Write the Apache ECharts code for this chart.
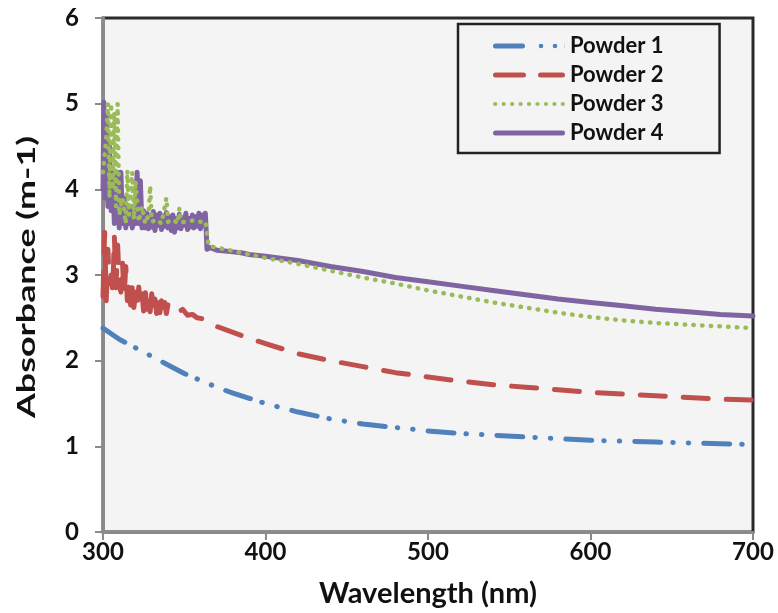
<!DOCTYPE html>
<html>
<head>
<meta charset="utf-8">
<script src="https://cdn.jsdelivr.net/npm/echarts@6/dist/echarts.min.js"></script>
<style>html,body{margin:0;padding:0;background:#fff}#c{width:778px;height:613px}</style>
</head>
<body>
<div id="c"></div>
<script>
// ---- Data ----
const seriesNames = ['Powder 1', 'Powder 2', 'Powder 3', 'Powder 4'];
const xTicks = [300, 400, 500, 600, 700];
const yTicks = [0, 1, 2, 3, 4, 5, 6];
const xTitle = 'Wavelength (nm)';
const yTitle = 'Absorbance (m-1)';

const p1Wl  = [300, 310, 320, 330, 340, 350, 360, 370, 380, 390, 400, 420, 440, 460, 480, 500, 520, 540, 560, 580, 600, 620, 640, 660, 680, 700];
const p1Abs = [2.38, 2.25, 2.15, 2.05, 1.95, 1.85, 1.77, 1.69, 1.62, 1.56, 1.50, 1.40, 1.32, 1.26, 1.22, 1.18, 1.15, 1.13, 1.11, 1.09, 1.07, 1.06, 1.05, 1.04, 1.03, 1.02];

const p2Wl  = [300, 301, 302, 303, 304, 305, 306, 307, 308, 309, 310, 311, 312, 313, 314, 315, 316, 317, 318, 319, 320, 321, 322, 323, 324, 325, 326, 327, 328, 329, 330, 331, 332, 333, 334, 335, 336, 337, 338, 339, 340, 343, 346, 349, 352, 355, 358, 361, 364, 370, 380, 390, 400, 420, 440, 460, 480, 500, 520, 540, 560, 580, 600, 620, 640, 660, 680, 700];
const p2Abs = [2.75, 3.50, 2.70, 3.30, 2.90, 3.00, 2.80, 3.45, 2.85, 3.35, 2.90, 2.80, 3.15, 2.75, 3.10, 2.70, 2.90, 2.65, 2.85, 2.62, 2.80, 2.60, 2.86, 2.63, 2.78, 2.58, 2.82, 2.60, 2.75, 2.57, 2.78, 2.58, 2.72, 2.55, 2.74, 2.56, 2.70, 2.54, 2.68, 2.55, 2.66, 2.60, 2.56, 2.60, 2.53, 2.54, 2.50, 2.49, 2.45, 2.40, 2.33, 2.26, 2.20, 2.08, 2.00, 1.93, 1.86, 1.81, 1.76, 1.72, 1.69, 1.66, 1.63, 1.61, 1.59, 1.57, 1.55, 1.54];

const p3Wl  = [300, 302, 303, 304, 305, 306, 307, 308, 309, 310, 312, 314, 315, 316, 318, 319, 320, 322, 324, 326, 328, 329, 330, 333, 336, 339, 340, 343, 346, 347, 348, 352, 356, 360, 363, 365, 370, 380, 390, 400, 420, 440, 460, 480, 500, 520, 540, 560, 580, 600, 620, 640, 660, 680, 700];
const p3Abs = [4.20, 4.60, 5.00, 3.90, 5.00, 4.00, 4.90, 3.80, 5.00, 3.70, 3.90, 3.60, 4.22, 3.70, 4.20, 3.65, 4.10, 3.62, 3.80, 3.60, 3.70, 4.04, 3.62, 3.65, 3.60, 3.90, 3.62, 3.65, 3.60, 3.78, 3.62, 3.62, 3.64, 3.62, 3.63, 3.34, 3.32, 3.28, 3.24, 3.20, 3.13, 3.05, 2.97, 2.90, 2.82, 2.75, 2.68, 2.62, 2.56, 2.51, 2.47, 2.44, 2.42, 2.40, 2.38];

const p4Wl  = [300, 300.5, 301, 302, 303, 304, 305, 306, 307, 308, 309, 310, 311, 312, 313, 314, 315, 316, 317, 318, 319, 320, 321, 322, 323, 324, 325, 326, 327, 328, 329, 330, 331, 332, 333, 334, 335, 336, 337, 338, 339, 340, 341, 342, 343, 344, 345, 346, 347, 348, 349, 350, 351, 352, 353, 354, 355, 356, 357, 358, 359, 360, 361, 362, 363, 364, 366, 370, 375, 380, 385, 390, 400, 420, 440, 460, 480, 500, 520, 540, 560, 580, 600, 620, 640, 660, 680, 700];
const p4Abs = [4.00, 5.02, 3.90, 4.90, 3.80, 4.50, 3.75, 4.20, 3.60, 3.90, 4.20, 3.55, 4.20, 3.60, 3.90, 3.55, 3.75, 3.60, 3.80, 3.55, 3.70, 3.60, 4.20, 3.60, 4.10, 3.55, 3.75, 3.55, 3.72, 3.54, 3.70, 3.56, 3.74, 3.52, 3.70, 3.58, 3.72, 3.53, 3.69, 3.57, 3.73, 3.55, 3.68, 3.52, 3.70, 3.50, 3.66, 3.55, 3.71, 3.54, 3.67, 3.58, 3.72, 3.53, 3.66, 3.56, 3.70, 3.55, 3.68, 3.57, 3.72, 3.54, 3.70, 3.58, 3.72, 3.30, 3.32, 3.29, 3.28, 3.27, 3.26, 3.24, 3.22, 3.17, 3.10, 3.04, 2.97, 2.92, 2.87, 2.82, 2.77, 2.72, 2.68, 2.64, 2.60, 2.57, 2.54, 2.52];

const colors = ['#4f81bd', '#c0504d', '#9bbb59', '#8064a2'];

function pairs(xs, ys) { return xs.map((x, i) => [x, ys[i]]); }

const FONT = 'Lato';
const chart = echarts.init(document.getElementById('c'), null, { renderer: 'canvas' });

const dashStyles = [
  [26, 12, 0.5, 15, 0.5, 15],
  [25, 18],
  [0.5, 8.2],
  'solid'
];
const widths = [5, 5, 4.5, 5];
const datasets = [pairs(p1Wl, p1Abs), pairs(p2Wl, p2Abs), pairs(p3Wl, p3Abs), pairs(p4Wl, p4Abs)];

// legend sample glyphs (72 x 5 boxes)
function pill(x0, x1) {
  const r = 2.5;
  return 'M' + (x0 + r) + ',0 L' + (x1 - r) + ',0 A' + r + ',' + r + ' 0 0 1 ' + (x1 - r) + ',5 L' + (x0 + r) + ',5 A' + r + ',' + r + ' 0 0 1 ' + (x0 + r) + ',0 Z ';
}
function dot(cx, r) {
  return 'M' + (cx - r) + ',2.5 A' + r + ',' + r + ' 0 1 1 ' + (cx + r) + ',2.5 A' + r + ',' + r + ' 0 1 1 ' + (cx - r) + ',2.5 Z ';
}
let p3Icon = '';
for (let i = 0; i < 9; i++) p3Icon += dot(2.2 + i * 8.45, 2.1);
const legendIcons = [
  'path://' + pill(0, 32) + dot(48, 2.3) + dot(62, 2.3) + 'M71.8,0 L72,0 L72,5 L71.8,5 Z',
  'path://' + pill(0, 33) + pill(45, 72),
  'path://' + p3Icon + 'M0,0 L0.01,0 L0.01,5 L0,5 Z',
  'path://' + pill(0, 72)
];

// elongated vertical axis title, as drawn in the reference
const meas = document.createElement('canvas').getContext('2d');
meas.font = 'bold 24px Lato';
const yTitleLen = meas.measureText(yTitle).width;
const yTitleScale = 282 / yTitleLen;

chart.setOption({
  animation: false,
  backgroundColor: '#ffffff',
  grid: {
    left: 103, right: 25, top: 18, bottom: 75,
    show: true, backgroundColor: '#f4f4f4', borderColor: '#2b2b2b', borderWidth: 3
  },
  legend: {
    orient: 'vertical',
    left: 458, top: 24,
    padding: [11, 56, 9, 35],
    borderColor: '#222', borderWidth: 2.5,
    backgroundColor: '#f4f4f4',
    itemWidth: 72, itemHeight: 5, itemGap: 7,
    data: seriesNames.map((n, i) => ({ name: n, icon: legendIcons[i], itemStyle: { color: colors[i], borderWidth: 0 } })),
    textStyle: { fontFamily: FONT, fontWeight: 'bold', fontSize: 22, color: '#111', lineHeight: 22 }
  },
  graphic: [{
    type: 'text', x: 27, y: 277, rotation: Math.PI / 2, scaleX: yTitleScale, scaleY: 1,
    style: { text: yTitle, font: 'bold 24px Lato', fill: '#111', align: 'center', verticalAlign: 'middle' }
  }],
  xAxis: {
    type: 'value', min: xTicks[0], max: xTicks[xTicks.length - 1], interval: 100,
    name: xTitle, nameLocation: 'middle', nameGap: 47,
    nameTextStyle: { fontFamily: FONT, fontWeight: 'bold', fontSize: 29, color: '#111' },
    axisLine: { onZero: false, lineStyle: { color: '#8a8a8a', width: 3 } },
    axisTick: { show: true, inside: false, length: 8, lineStyle: { color: '#8a8a8a', width: 2 } },
    axisLabel: { fontFamily: FONT, fontWeight: 'bold', fontSize: 24, color: '#111', margin: 8 },
    splitLine: { show: false }
  },
  yAxis: {
    type: 'value', min: yTicks[0], max: yTicks[yTicks.length - 1], interval: 1,
    axisLine: { show: true, onZero: false, lineStyle: { color: '#8a8a8a', width: 3 } },
    axisTick: { show: true, inside: false, length: 8, lineStyle: { color: '#8a8a8a', width: 2 } },
    axisLabel: { fontFamily: FONT, fontWeight: 'bold', fontSize: 24, color: '#111', margin: 24 },
    splitLine: { show: false }
  },
  series: seriesNames.map((name, i) => ({
    name: name,
    type: 'line',
    data: datasets[i],
    showSymbol: false,
    symbol: 'none',
    z: 10 - i,
    color: colors[i],
    lineStyle: { color: colors[i], width: widths[i], type: dashStyles[i], cap: 'round', join: 'round' },
    itemStyle: { color: colors[i] }
  }))
});
</script>
</body>
</html>
